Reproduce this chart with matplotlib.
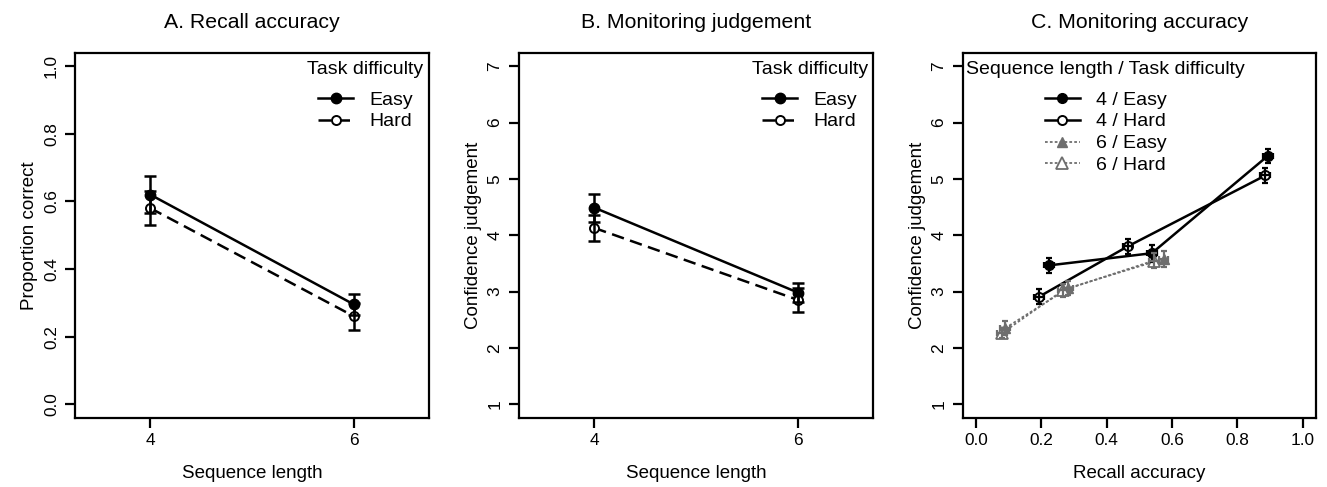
import matplotlib
matplotlib.use("Agg")
import matplotlib.pyplot as plt

plt.rcParams['font.family'] = ['Liberation Sans', 'DejaVu Sans']

# ---------------- data ----------------
seq_len = [4, 6]
difficulty = ["Easy", "Hard"]

# Panel A: recall accuracy (proportion correct)
recall_easy = [0.62, 0.295]
recall_easy_err = [0.055, 0.032]
recall_hard = [0.58, 0.26]
recall_hard_err = [0.05, 0.04]

# Panel B: monitoring judgement (confidence)
conf_easy = [4.49, 2.98]
conf_easy_err = [0.25, 0.17]
conf_hard = [4.13, 2.85]
conf_hard_err = [0.23, 0.21]

# Panel C: monitoring accuracy (recall accuracy vs confidence)
c_labels = ["4 / Easy", "4 / Hard", "6 / Easy", "6 / Hard"]
c_x = [[0.225, 0.538, 0.893],
       [0.194, 0.464, 0.885],
       [0.090, 0.283, 0.574],
       [0.080, 0.266, 0.545]]
c_y = [[3.465, 3.68, 5.41],
       [2.91, 3.80, 5.06],
       [2.35, 3.06, 3.58],
       [2.26, 3.02, 3.55]]
c_xerr = [[0.015, 0.015, 0.015],
          [0.015, 0.015, 0.015],
          [0.015, 0.015, 0.015],
          [0.015, 0.015, 0.015]]
c_yerr = [[0.13, 0.15, 0.12],
          [0.13, 0.13, 0.14],
          [0.12, 0.12, 0.14],
          [0.08, 0.12, 0.13]]

titles = ["A. Recall accuracy", "B. Monitoring judgement", "C. Monitoring accuracy"]

# ---------------- figure ----------------
W, H = 1327, 487
fig = plt.figure(figsize=(W / 100, H / 100), dpi=100)

def px_axes(left, right, top, bottom):
    return fig.add_axes([left / W, 1 - bottom / H, (right - left) / W, (bottom - top) / H])

axA = px_axes(75.3, 429.0, 52.7, 417.7)
axB = px_axes(519.0, 873.3, 52.7, 417.7)
axC = px_axes(962.7, 1316.0, 52.7, 417.7)

GRAY = "#6e6e6e"
TICK_FS = 12.4
LAB_FS = 13.5
TITLE_FS = 15.3
LEG_FS = 14
LW = 1.8

def style_axes(ax):
    for s in ax.spines.values():
        s.set_linewidth(1.6)
        s.set_color("black")
    ax.tick_params(axis="both", direction="out", length=7, width=1.6,
                   labelsize=TICK_FS, pad=4.3, color="black")
    ax.tick_params(axis="y", labelrotation=90, pad=4.8)
    for lab in ax.get_yticklabels():
        lab.set_va("center")
        lab.set_ha("right")

def make_legend(ax, cx, title):
    leg = ax.legend(loc="upper center", bbox_to_anchor=(cx, 1.0), frameon=False,
                    title=title, fontsize=LEG_FS, title_fontsize=LEG_FS,
                    handlelength=1.8, handletextpad=0.82, labelspacing=0.22,
                    borderaxespad=0.0, borderpad=0.45, numpoints=1)
    leg._legend_box.sep = 9.0
    return leg

def two_level(ax, ye, ee, yh, eh):
    ax.plot(seq_len, ye, color="black", lw=LW, marker="o", ms=7.5,
            mfc="black", mec="black", zorder=3, label=difficulty[0])
    ax.plot(seq_len, yh, color="black", lw=LW, ls=(0, (5, 2.6)), marker="o", ms=6.5,
            mfc="white", mec="black", mew=1.4, zorder=3, label=difficulty[1])
    ax.errorbar(seq_len, ye, yerr=ee, fmt="none", ecolor="black", elinewidth=LW,
                capsize=4.3, capthick=LW, zorder=4)
    ax.errorbar(seq_len, yh, yerr=eh, fmt="none", ecolor="black", elinewidth=LW,
                capsize=4.3, capthick=LW, zorder=4)
    ax.set_xlim(3.263, 6.737)
    ax.set_xticks(seq_len)
    ax.set_xlabel("Sequence length", fontsize=LAB_FS, labelpad=12)
    make_legend(ax, 0.8205, "Task difficulty")

# Panel A
two_level(axA, recall_easy, recall_easy_err, recall_hard, recall_hard_err)
axA.set_ylim(-0.04, 1.04)
axA.set_yticks([0.0, 0.2, 0.4, 0.6, 0.8, 1.0])
axA.set_yticklabels(["0.0", "0.2", "0.4", "0.6", "0.8", "1.0"])
axA.set_ylabel("Proportion correct", fontsize=LAB_FS, labelpad=4)

# Panel B
two_level(axB, conf_easy, conf_easy_err, conf_hard, conf_hard_err)
axB.set_ylim(0.76, 7.24)
axB.set_yticks([1, 2, 3, 4, 5, 6, 7])
axB.set_ylabel("Confidence judgement", fontsize=LAB_FS, labelpad=4)

# Panel C
c_styles = [
    dict(color="black", ls="-", lw=LW, marker="o", ms=7.0, mfc="black", mec="black"),
    dict(color="black", ls="-", lw=LW, marker="o", ms=6.5, mfc="white", mec="black", mew=1.4),
    dict(color=GRAY, ls=(0, (1.5, 1.2)), lw=1.3, marker="^", ms=7.5, mfc=GRAY, mec=GRAY),
    dict(color=GRAY, ls=(0, (1.5, 1.2)), lw=1.3, marker="^", ms=8.0, mfc="white", mec=GRAY, mew=1.3),
]
ecol = ["black", "black", GRAY, GRAY]
for i in range(4):
    axC.plot(c_x[i], c_y[i], zorder=3, label=c_labels[i], **c_styles[i])
    axC.errorbar(c_x[i], c_y[i], xerr=c_xerr[i], yerr=c_yerr[i], fmt="none",
                 ecolor=ecol[i], elinewidth=1.6, capsize=2.2, capthick=1.6, zorder=4)
axC.set_xlim(-0.04, 1.04)
axC.set_xticks([0.0, 0.2, 0.4, 0.6, 0.8, 1.0])
axC.set_xticklabels(["0.0", "0.2", "0.4", "0.6", "0.8", "1.0"])
axC.set_ylim(0.76, 7.24)
axC.set_yticks([1, 2, 3, 4, 5, 6, 7])
axC.set_xlabel("Recall accuracy", fontsize=LAB_FS, labelpad=12)
axC.set_ylabel("Confidence judgement", fontsize=LAB_FS, labelpad=4)
make_legend(axC, 0.405, "Sequence length / Task difficulty")

for ax, t in zip([axA, axB, axC], titles):
    style_axes(ax)
    ax.set_title(t, fontsize=TITLE_FS, pad=18)

fig.savefig("out.png", dpi=100)
